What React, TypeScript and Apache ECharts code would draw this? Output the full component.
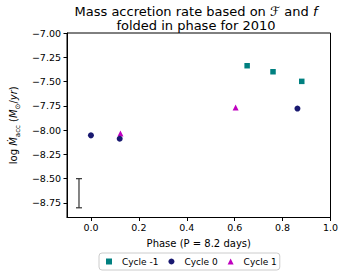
import React, { useEffect, useRef } from "react";
import * as echarts from "echarts";

const cycleM1Phase = [0.652, 0.76, 0.88];
const cycleM1Values = [-7.337, -7.399, -7.498];
const cycle0Phase = [0.0, 0.12, 0.862];
const cycle0Values = [-8.054, -8.089, -7.778];
const cycle1Phase = [0.123, 0.604];
const cycle1Values = [-8.035, -7.766];
const errPhase = [-0.05];
const errLow = [-8.8];
const errHigh = [-8.5];
const xTicks = [0.0, 0.2, 0.4, 0.6, 0.8, 1.0];
const yTicks = [-8.75, -8.5, -8.25, -8.0, -7.75, -7.5, -7.25, -7.0];

const FONT = "DejaVu Sans";

export default function App() {
  const ref = useRef<HTMLDivElement>(null);
  useEffect(() => {
    if (!ref.current) return;
    const chart = echarts.init(ref.current, null, { renderer: "svg" });
    const zip = (xs: number[], ys: number[]) => xs.map((x, i) => [x, ys[i]]);
    chart.setOption({
      animation: false,
      backgroundColor: "#fff",
      textStyle: { fontFamily: FONT },
      title: {
        text: "Mass accretion rate based on {s|ℱ} and {i|f}\nfolded in phase for 2010",
        left: 196,
        top: 4,
        padding: 0,
        textAlign: "center",
        textStyle: {
          fontFamily: FONT,
          fontSize: 13,
          fontWeight: "normal",
          color: "#000",
          lineHeight: 14,
          rich: {
            s: { fontFamily: FONT, fontSize: 13, color: "#000", fontStyle: "italic", lineHeight: 14 },
            i: { fontFamily: FONT, fontSize: 13, color: "#000", fontStyle: "italic", lineHeight: 14 },
          },
        },
      },
      grid: {
        left: 60,
        right: 14.5,
        top: 33,
        bottom: 56.5,
        show: true,
        borderColor: "#000",
        borderWidth: 1,
        backgroundColor: "transparent",
      },
      xAxis: {
        type: "value",
        min: -0.1,
        max: 1.0,
        name: "Phase (P = 8.2 days)",
        nameLocation: "middle",
        nameGap: 21,
        nameTextStyle: { fontFamily: FONT, fontSize: 10, color: "#000" },
        axisLine: { show: true, onZero: false, lineStyle: { color: "#000", width: 1 } },
        axisTick: { show: true, inside: false, length: 3.5, customValues: xTicks, lineStyle: { color: "#000" } },
        axisLabel: {
          customValues: xTicks,
          margin: 5,
          fontFamily: FONT,
          fontSize: 9.5,
          color: "#000",
          formatter: (v: number) => v.toFixed(1).replace("-", "−"),
        },
        splitLine: { show: false },
      },
      yAxis: {
        type: "value",
        min: -8.9,
        max: -7.0,
        name: "{n|log }{m|Ṁ}{sub|acc}{n| (}{m|M}{sub|⊙}{n|/}{m|yr}{n|)}",
        nameLocation: "middle",
        nameGap: 42,
        nameTextStyle: {
          fontFamily: FONT,
          fontSize: 10,
          color: "#000",
          rich: {
            n: { fontFamily: FONT, fontSize: 10, color: "#000" },
            m: { fontFamily: FONT, fontSize: 10, color: "#000", fontStyle: "italic" },
            sub: { fontFamily: FONT, fontSize: 7, color: "#000", verticalAlign: "bottom", padding: [0, 0, -3, 0] },
          },
        },
        axisLine: { show: true, onZero: false, lineStyle: { color: "#000", width: 1 } },
        axisTick: { show: true, inside: false, length: 3.5, customValues: yTicks, lineStyle: { color: "#000" } },
        axisLabel: {
          customValues: yTicks,
          margin: 6,
          fontFamily: FONT,
          fontSize: 9.5,
          color: "#000",
          formatter: (v: number) => v.toFixed(2).replace("-", "−"),
        },
        splitLine: { show: false },
      },
      legend: {
        left: 99,
        top: 253,
        orient: "horizontal",
        itemWidth: 6,
        itemHeight: 6,
        itemGap: 10,
        padding: [4, 3, 4, 7],
        borderColor: "#cccccc",
        borderWidth: 1,
        borderRadius: 3,
        backgroundColor: "rgba(255,255,255,0.8)",
        textStyle: { fontFamily: FONT, fontSize: 9, color: "#000", padding: [0, 0, 0, 5] },
        data: [
          { name: "Cycle -1", icon: "rect", itemStyle: { color: "#008080" } },
          { name: "Cycle 0", icon: "circle", itemStyle: { color: "#191970" } },
          { name: "Cycle 1", icon: "triangle", itemStyle: { color: "#bf00bf" } },
        ],
      },
      series: [
        {
          type: "custom",
          name: "err",
          silent: true,
          renderItem: (params: any, api: any) => {
            const x = api.value(0);
            const lo = api.coord([x, api.value(1)]);
            const hi = api.coord([x, api.value(2)]);
            const cap = 3;
            const style = { stroke: "#333", lineWidth: 1.2 };
            return {
              type: "group",
              children: [
                { type: "line", shape: { x1: lo[0], y1: lo[1], x2: hi[0], y2: hi[1] }, style },
                { type: "line", shape: { x1: lo[0] - cap, y1: lo[1], x2: lo[0] + cap, y2: lo[1] }, style },
                { type: "line", shape: { x1: hi[0] - cap, y1: hi[1], x2: hi[0] + cap, y2: hi[1] }, style },
              ],
            };
          },
          data: errPhase.map((x, i) => [x, errLow[i], errHigh[i]]),
          z: 1,
        },
        {
          type: "scatter",
          name: "Cycle -1",
          symbol: "rect",
          symbolSize: 5.5,
          itemStyle: { color: "#008080", opacity: 1 },
          data: zip(cycleM1Phase, cycleM1Values),
          z: 3,
        },
        {
          type: "scatter",
          name: "Cycle 0",
          symbol: "circle",
          symbolSize: 6,
          itemStyle: { color: "#191970", opacity: 1 },
          data: zip(cycle0Phase, cycle0Values),
          z: 3,
        },
        {
          type: "scatter",
          name: "Cycle 1",
          symbol: "triangle",
          symbolSize: 6,
          itemStyle: { color: "#bf00bf", opacity: 1 },
          data: zip(cycle1Phase, cycle1Values),
          z: 2,
        },
      ],
    });
    return () => chart.dispose();
  }, []);
  return <div ref={ref} style={{ width: 345, height: 274, position: "absolute", left: 0, top: 0 }} />;
}
